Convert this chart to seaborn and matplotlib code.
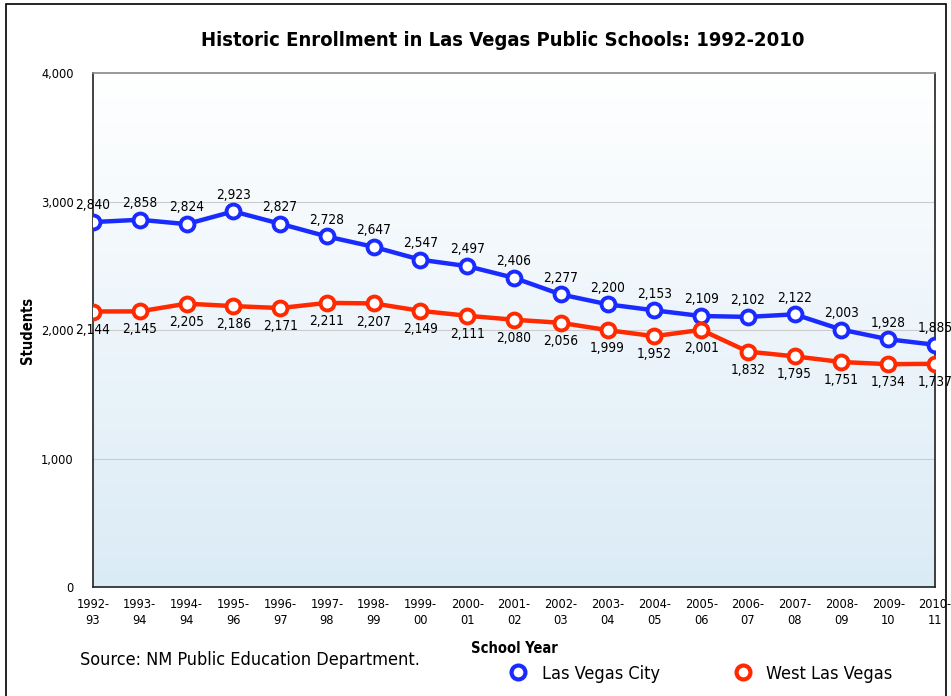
import numpy as np
import pandas as pd
import matplotlib
matplotlib.use("Agg")
import matplotlib.pyplot as plt
import seaborn as sns
from matplotlib.patches import Rectangle
from matplotlib.lines import Line2D

school_years = ["1992-\n93", "1993-\n94", "1994-\n94", "1995-\n96", "1996-\n97", "1997-\n98",
                "1998-\n99", "1999-\n00", "2000-\n01", "2001-\n02", "2002-\n03", "2003-\n04",
                "2004-\n05", "2005-\n06", "2006-\n07", "2007-\n08", "2008-\n09", "2009-\n10",
                "2010-\n11"]
las_vegas_city = [2840, 2858, 2824, 2923, 2827, 2728, 2647, 2547, 2497, 2406, 2277, 2200,
                  2153, 2109, 2102, 2122, 2003, 1928, 1885]
west_las_vegas = [2144, 2145, 2205, 2186, 2171, 2211, 2207, 2149, 2111, 2080, 2056, 1999,
                  1952, 2001, 1832, 1795, 1751, 1734, 1737]
y_ticks = [0, 1000, 2000, 3000, 4000]

blue = "#1a2bff"
red = "#ff2a00"

sns.set_style("white")
plt.rcParams['font.family'] = ['DejaVu Sans']
plt.rcParams['font.stretch'] = 'condensed'
plt.rcParams['text.color'] = 'black'
plt.rcParams['xtick.color'] = 'black'
plt.rcParams['ytick.color'] = 'black'
plt.rcParams['axes.labelcolor'] = 'black'

df = pd.DataFrame({"pos": range(len(school_years)), "city": las_vegas_city, "west": west_las_vegas})

fig = plt.figure(figsize=(9.51, 6.96), dpi=100)
ax = fig.add_axes([0.0978, 0.1566, 0.8854, 0.7385])

# gradient background, white at top to pale blue at bottom
grad = np.linspace(0, 1, 256).reshape(-1, 1)
cmap = matplotlib.colors.LinearSegmentedColormap.from_list("bg", ["#ffffff", "#dbebf6"])
ax.imshow(grad, aspect="auto", cmap=cmap, extent=[0, len(school_years) - 1, 0, 4000],
          zorder=0, origin="upper")

for col, color in [("city", blue), ("west", red)]:
    sns.lineplot(data=df, x="pos", y=col, ax=ax, color=color, linewidth=3.2, marker="o",
                 markersize=10, markerfacecolor="white", markeredgecolor=color,
                 markeredgewidth=2.8, zorder=3)

for i, v in enumerate(las_vegas_city):
    ax.annotate(f"{v:,}", (i, v), xytext=(0, 7), textcoords="offset points",
                ha="center", va="bottom", fontsize=9.8, zorder=4)
for i, v in enumerate(west_las_vegas):
    ax.annotate(f"{v:,}", (i, v), xytext=(0, -8), textcoords="offset points",
                ha="center", va="top", fontsize=9.8, zorder=4)

ax.set_xlim(0, len(school_years) - 1)
ax.set_ylim(0, 4000)
ax.set_yticks(y_ticks)
ax.set_yticklabels([f"{t:,}" for t in y_ticks], fontsize=9.2)
ax.set_xticks(range(len(school_years)))
ax.set_xticklabels(school_years, fontsize=9.2, linespacing=1.3)
ax.tick_params(length=0, pad=8)
ax.tick_params(axis="y", pad=14)
for y in y_ticks[1:4]:
    ax.axhline(y, color="#cccccc", linewidth=0.8, zorder=1)
for s in ax.spines.values():
    s.set_color("#222222")
    s.set_linewidth(1.2)
ax.spines["top"].set_color("#888888")

ax.set_xlabel("School Year", fontsize=10.5, fontweight="bold", labelpad=10)
ax.set_ylabel("Students", fontsize=10.5, fontweight="bold", labelpad=4)

fig.text(0.529, 0.942, "Historic Enrollment in Las Vegas Public Schools: 1992-2010",
         ha="center", va="center", fontsize=14.5, fontweight="bold")
fig.text(0.084, 0.052, "Source: NM Public Education Department.", ha="left", va="center",
         fontsize=13)

handles = [Line2D([], [], linestyle="none", marker="o", markersize=10, markerfacecolor="white",
                  markeredgecolor=c, markeredgewidth=3) for c in (blue, red)]
fig.legend(handles, ["Las Vegas City", "West Las Vegas"], loc="center",
           bbox_to_anchor=(0.737, 0.032), ncol=2, frameon=False, fontsize=13,
           columnspacing=4.1, handlelength=1.0, handletextpad=0.8)

fig.patches.append(Rectangle((0.006, -0.1), 0.989, 1.094, transform=fig.transFigure,
                             fill=False, edgecolor="black", linewidth=1.2))

fig.savefig("out.png", dpi=100)
